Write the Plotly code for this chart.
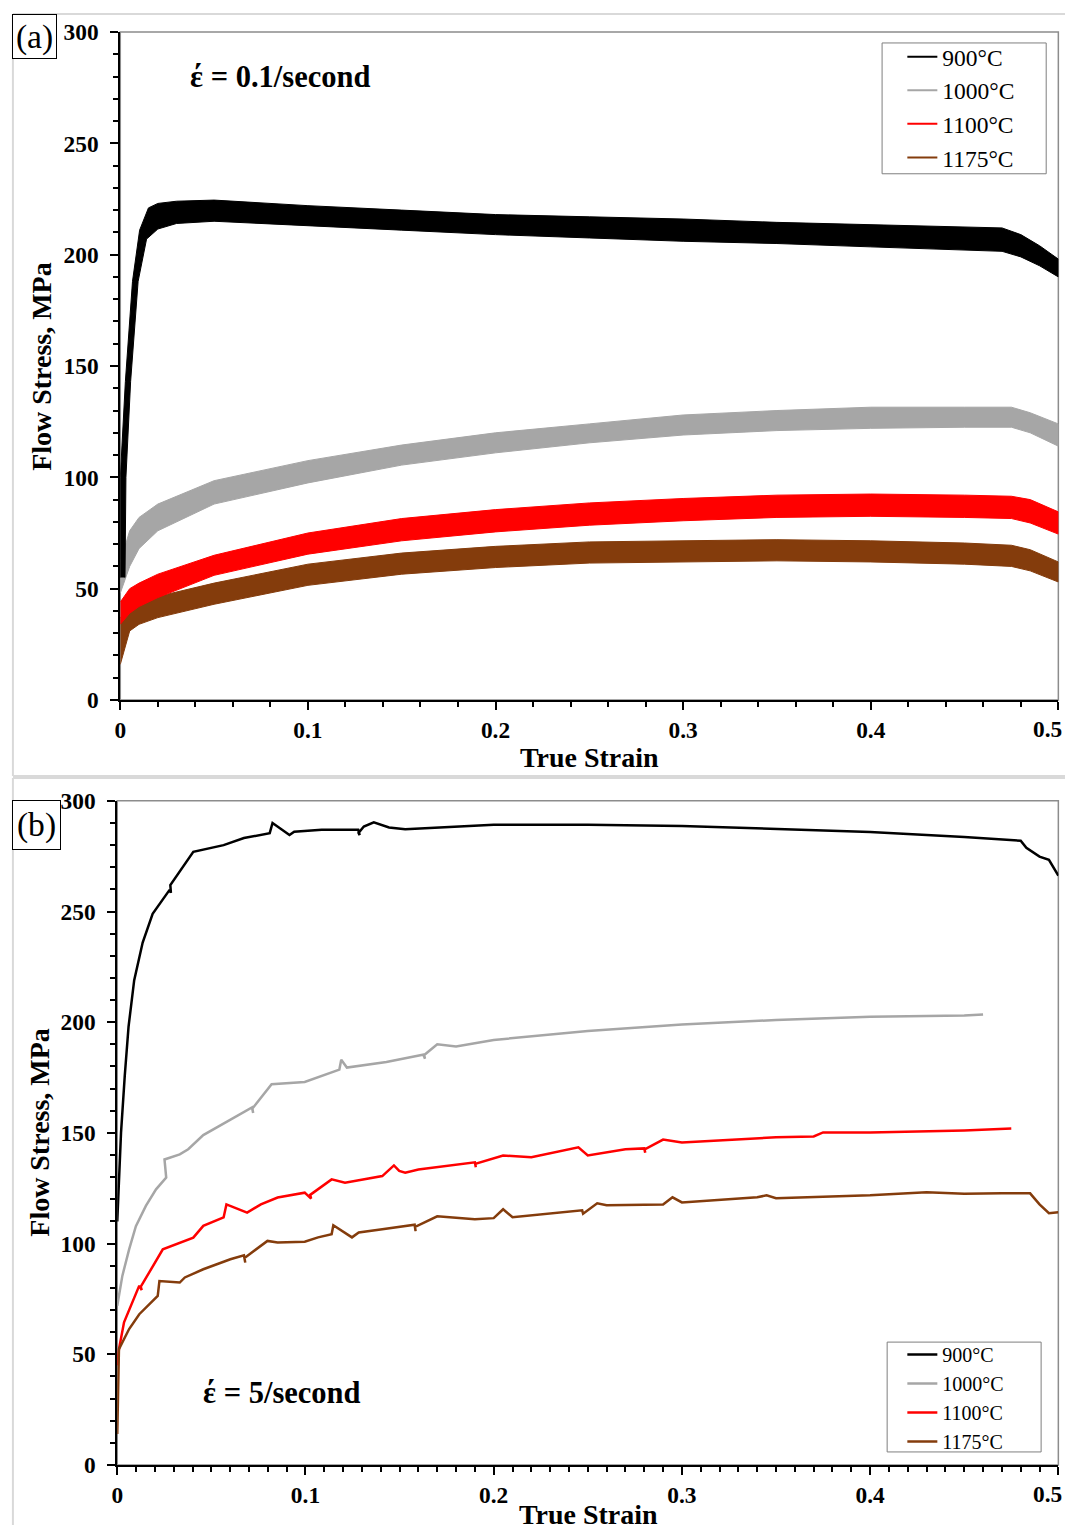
import plotly.graph_objects as go

# ---------------- data ----------------
TEMPS = ["900°C", "1000°C", "1100°C", "1175°C"]
COLORS = ["#000000", "#A6A6A6", "#FF0000", "#843C0C"]

# Panel (a): strain rate 0.1/s  -> noisy bands, given as upper / lower envelopes
A_BLACK_STRAIN_UP = [0.0, 0.0, 0.0027, 0.0065, 0.0103, 0.015, 0.02, 0.03, 0.05, 0.1, 0.15, 0.2, 0.25, 0.3, 0.35, 0.4, 0.45, 0.47, 0.48, 0.49, 0.5]
A_BLACK_UP = [55, 100, 143, 188, 211, 221, 223, 224, 224.5, 222, 220, 218, 217, 216, 214.5, 213.5, 212.5, 212, 209, 204, 198]
A_BLACK_STRAIN_LO = [0.0025, 0.003, 0.0055, 0.0095, 0.014, 0.02, 0.03, 0.05, 0.1, 0.15, 0.2, 0.25, 0.3, 0.35, 0.4, 0.45, 0.47, 0.48, 0.49, 0.5]
A_BLACK_LO = [55, 100, 143, 188, 207, 211.5, 214, 215, 213, 211, 209, 207.5, 206, 205, 203.5, 202, 201.5, 199, 195, 190]

A_STRAIN = [0.0, 0.005, 0.01, 0.02, 0.05, 0.1, 0.15, 0.2, 0.25, 0.3, 0.35, 0.4, 0.45, 0.475, 0.485, 0.5]
A_GRAY_UP = [62, 76, 82, 88, 98.5, 107.5, 114.5, 120, 124, 128, 130, 131.5, 131.5, 131.5, 129, 124]
A_GRAY_LO = [48, 60, 68, 76, 88, 97.5, 105.5, 111, 115.5, 119, 121, 122, 122.5, 122.5, 120, 114]
A_RED_UP = [44, 50, 52.5, 56.5, 65, 75, 81.5, 85.5, 88.5, 90.5, 92, 92.5, 92, 91.5, 90, 84.5]
A_RED_LO = [34, 39, 42, 46, 56, 65.5, 71.5, 75.5, 78.5, 80.5, 82, 82.5, 82, 81.5, 79.5, 74.5]
A_BROWN_UP = [37, 41, 43.5, 46.5, 52.5, 61, 66, 69, 71, 71.5, 72, 71.5, 70.5, 69.5, 67.5, 62]
A_BROWN_LO = [16, 31, 34, 37, 43, 51.5, 56.5, 59.5, 61.5, 62, 62.5, 62, 61, 60, 58, 53]

# Panel (b): strain rate 5/s
B_BLACK_STRAIN = [0.0, 0.002, 0.004, 0.006, 0.009, 0.0135, 0.0188, 0.0278, 0.0285, 0.0282, 0.0404, 0.0457, 0.0565,
                  0.0673, 0.081, 0.0825, 0.0915, 0.094, 0.1086, 0.128, 0.1288, 0.1282, 0.131, 0.1363, 0.1444, 0.153,
                  0.2, 0.25, 0.3, 0.35, 0.4, 0.45, 0.48, 0.483, 0.49, 0.495, 0.5]
B_BLACK = [110, 150, 176, 198, 219, 236, 249, 259.8, 258.5, 262, 277, 278, 280,
           283.2, 285.4, 290, 284.6, 286.1, 286.9, 287, 284.5, 285.5, 288.4, 290.3, 288, 287.2,
           289.2, 289.2, 288.7, 287.3, 285.9, 283.7, 282, 278.8, 274.8, 273.4, 266.2]

B_GRAY_STRAIN = [0.0, 0.0027, 0.0063, 0.0099, 0.0152, 0.0206, 0.026, 0.0251, 0.0332, 0.0377, 0.0457, 0.062, 0.0716,
                 0.0722, 0.0718, 0.082, 0.0996, 0.118, 0.119, 0.122, 0.143, 0.163, 0.1635, 0.1628, 0.17, 0.18,
                 0.2, 0.25, 0.3, 0.35, 0.4, 0.45, 0.46]
B_GRAY = [71.9, 85.4, 97.4, 107.9, 117, 124.5, 129.8, 138, 140.3, 142.6, 149, 157, 161.5,
          159, 161, 172, 173, 178.6, 183, 179.5, 182, 185.4, 183.5, 185, 190, 189,
          192, 196, 199, 201, 202.5, 203, 203.5]

B_RED_STRAIN = [0.0, 0.0009, 0.0036, 0.0117, 0.013, 0.0125, 0.0242, 0.0404, 0.0457, 0.0565, 0.058, 0.069, 0.0763,
                0.0852, 0.0996, 0.103, 0.1025, 0.1139, 0.121, 0.1408, 0.147, 0.1498, 0.153, 0.16, 0.19, 0.1905,
                0.1902, 0.205, 0.22, 0.245, 0.25, 0.27, 0.28, 0.2805, 0.2802, 0.29, 0.3, 0.35, 0.37, 0.375,
                0.4, 0.45, 0.47, 0.475]
B_RED = [45, 52.3, 64.4, 81, 79, 80.5, 97.4, 102.7, 108, 111.8, 117.7, 114, 117.7,
         120.8, 123, 120.3, 122, 129, 127.5, 130.5, 135.3, 132.8, 132, 133.5, 136.7, 134.5,
         136, 139.8, 139, 143.5, 139.8, 142.6, 143, 141, 142.5, 147, 145.7, 148, 148.4, 150.2,
         150.2, 151.1, 151.6, 152]

B_BROWN_STRAIN = [0.0, 0.0005, 0.0009, 0.0063, 0.0117, 0.0215, 0.0224, 0.0332, 0.0359, 0.0457, 0.0601, 0.0673,
                  0.068, 0.0676, 0.0798, 0.0852, 0.0996, 0.1067, 0.1139, 0.1148, 0.1247, 0.1283, 0.1408, 0.153,
                  0.158, 0.1585, 0.1582, 0.17, 0.19, 0.2, 0.205, 0.21, 0.24, 0.247, 0.2475, 0.255, 0.26, 0.29,
                  0.295, 0.3, 0.34, 0.345, 0.35, 0.4, 0.43, 0.45, 0.47, 0.485, 0.49, 0.495, 0.5]
B_BROWN = [14, 30, 52.3, 61.4, 68.1, 76.4, 83.1, 82.4, 84.7, 88.4, 92.9, 94.7,
           91.4, 93.5, 101.2, 100.5, 100.8, 102.8, 104.2, 108.3, 102.8, 105, 106.5, 108,
           108.5, 105.6, 107.5, 112.3, 111, 111.5, 115.5, 111.9, 114.6, 115, 113.5, 118.2, 117.3, 117.7,
           120.9, 118.6, 120.9, 121.8, 120.5, 121.8, 123.2, 122.5, 122.7, 122.7, 117.7, 113.7, 114.1]

X_TICKS = [0, 0.1, 0.2, 0.3, 0.4, 0.5]
X_TICK_LABELS = ["0", "0.1", "0.2", "0.3", "0.4", "0.5"]
Y_TICKS = [0, 50, 100, 150, 200, 250, 300]

# ---------------- figure ----------------
W, H = 1066, 1538
FONT = "Liberation Serif"

# the captured page comes out slightly scaled/offset; positions below are given
# in target-picture pixels and converted to paper fractions here
SX, OX = 0.9816, 5.17
SY, OY = 0.9845, 12.0
FS = 1 / 0.983


def px_x(p):
    return ((p - OX) / SX) / W


def px_y(p):
    return 1 - ((p - OY) / SY) / H


def f(sz):
    return sz * FS


fig = go.Figure()


def band(xu, yu, xl, yl, color, xa, ya):
    xs = list(xu) + list(reversed(xl))
    ys = list(yu) + list(reversed(yl))
    fig.add_trace(go.Scatter(x=xs, y=ys, fill="toself", fillcolor=color, mode="lines",
                             line=dict(color=color, width=1), showlegend=False,
                             hoverinfo="skip", xaxis=xa, yaxis=ya))


band(A_STRAIN, A_BROWN_UP, A_STRAIN, A_BROWN_LO, COLORS[3], "x", "y")
band(A_STRAIN, A_RED_UP, A_STRAIN, A_RED_LO, COLORS[2], "x", "y")
band(A_STRAIN, A_GRAY_UP, A_STRAIN, A_GRAY_LO, COLORS[1], "x", "y")
band(A_BLACK_STRAIN_UP, A_BLACK_UP, A_BLACK_STRAIN_LO, A_BLACK_LO, COLORS[0], "x", "y")

# legend entries for panel (a)
for t, c in zip(TEMPS, COLORS):
    fig.add_trace(go.Scatter(x=[None], y=[None], mode="lines", line=dict(color=c, width=2),
                             name=t, legend="legend", xaxis="x", yaxis="y"))

# panel (b)
B_SERIES = [(B_BLACK_STRAIN, B_BLACK), (B_GRAY_STRAIN, B_GRAY), (B_RED_STRAIN, B_RED), (B_BROWN_STRAIN, B_BROWN)]
for (xs, ys), t, c in zip(B_SERIES, TEMPS, COLORS):
    fig.add_trace(go.Scatter(x=xs, y=ys, mode="lines", line=dict(color=c, width=2.5),
                             name=t, legend="legend2", xaxis="x2", yaxis="y2"))

tickfont = dict(family=FONT, size=f(23), color="black", weight="bold")

# the last x label sits at the very right edge of the page: it is placed as an
# annotation anchored to its right side so that it stays inside the page
AXIS_TICK_TEXT = X_TICK_LABELS[:-1] + [""]


def xaxis_cfg(domain, minor_dtick, anchor):
    return dict(domain=domain, anchor=anchor, range=[0, 0.5], tickvals=X_TICKS,
                ticktext=AXIS_TICK_TEXT, showgrid=False, zeroline=False,
                showline=True, linecolor="black", linewidth=2,
                ticks="outside", ticklen=8, tickwidth=2, tickcolor="black",
                minor=dict(dtick=minor_dtick, tick0=0, ticks="outside", ticklen=5, tickwidth=1.5,
                           tickcolor="black", showgrid=False),
                tickfont=tickfont, ticklabelstandoff=0)


def yaxis_cfg(domain, anchor):
    return dict(domain=domain, anchor=anchor, range=[0, 300], tickvals=Y_TICKS,
                showgrid=False, zeroline=False,
                showline=True, linecolor="black", linewidth=2,
                ticks="outside", ticklen=8, tickwidth=2, tickcolor="black",
                minor=dict(dtick=10, tick0=0, ticks="outside", ticklen=5, tickwidth=1.5,
                           tickcolor="black", showgrid=False),
                tickfont=tickfont, ticklabelstandoff=7)


legend_font_a = dict(family=FONT, size=23.5, color="black")
legend_font_b = dict(family=FONT, size=20, color="black")

fig.update_layout(
    width=W, height=H, autosize=False,
    margin=dict(l=0, r=0, t=0, b=0),
    paper_bgcolor="white", plot_bgcolor="white",
    xaxis=xaxis_cfg([px_x(118), px_x(1044)], 0.02, "y"),
    yaxis=yaxis_cfg([px_y(700), px_y(31)], "x"),
    xaxis2=xaxis_cfg([px_x(115), px_x(1044)], 0.01, "y2"),
    yaxis2=yaxis_cfg([px_y(1466), px_y(801)], "x2"),
    legend=dict(x=px_x(890), y=px_y(34), xanchor="left", yanchor="top",
                borderwidth=0, bgcolor="rgba(0,0,0,0)", font=legend_font_a),
    legend2=dict(x=px_x(890), y=px_y(1336), xanchor="left", yanchor="top",
                 borderwidth=0, bgcolor="rgba(0,0,0,0)", font=legend_font_b),
    showlegend=True,
)

# plot frames (grey top / right)
for xr, yr in [("x domain", "y domain"), ("x2 domain", "y2 domain")]:
    fig.add_shape(type="rect", xref=xr, yref=yr, x0=0, x1=1, y0=0, y1=1,
                  line=dict(color="#8C8C8C", width=1.5), layer="below")

# legend frames
fig.add_shape(type="rect", xref="paper", yref="paper", x0=px_x(870), x1=px_x(1032), y0=px_y(173), y1=px_y(42),
              line=dict(color="#7F7F7F", width=1), fillcolor="white", layer="above")
fig.add_shape(type="rect", xref="paper", yref="paper", x0=px_x(875), x1=px_x(1027), y0=px_y(1453), y1=px_y(1343),
              line=dict(color="#7F7F7F", width=1), fillcolor="white", layer="above")

# chart-area borders
border = dict(color="#D9D9D9", width=2)
top_y = min(px_y(10), 1 - 1 / H)
right_x = 1 - 1 / W
fig.add_shape(type="line", xref="paper", yref="paper", x0=px_x(12), x1=right_x, y0=top_y, y1=top_y, line=border)
fig.add_shape(type="line", xref="paper", yref="paper", x0=px_x(12), x1=px_x(12), y0=top_y, y1=px_y(776), line=border)
fig.add_shape(type="line", xref="paper", yref="paper", x0=px_x(12), x1=right_x, y0=px_y(776), y1=px_y(776), line=border)
fig.add_shape(type="line", xref="paper", yref="paper", x0=px_x(12), x1=right_x, y0=px_y(778), y1=px_y(778), line=border)
fig.add_shape(type="line", xref="paper", yref="paper", x0=px_x(12), x1=px_x(12), y0=px_y(778), y1=0, line=border)

title_font = dict(family=FONT, size=f(27.5), color="black", weight="bold")
rate_font = dict(family=FONT, size=f(30), color="black", weight="bold")
ann = [
    dict(text="True Strain", x=px_x(581), y=px_y(758), font=title_font),
    dict(text="Flow Stress, MPa", x=px_x(40), y=px_y(366), font=title_font, textangle=-90),
    dict(text="True Strain", x=px_x(580), y=px_y(1516), font=title_font),
    dict(text="Flow Stress, MPa", x=px_x(38), y=px_y(1133), font=title_font, textangle=-90),
    dict(text="έ = 0.1/second", x=px_x(185), y=px_y(76), xanchor="left", font=rate_font),
    dict(text="έ = 5/second", x=px_x(198), y=px_y(1394), xanchor="left", font=rate_font),
    dict(text=X_TICK_LABELS[-1], x=1064 / W, y=px_y(729), xanchor="right", font=tickfont),
    dict(text=X_TICK_LABELS[-1], x=1064 / W, y=px_y(1495), xanchor="right", font=tickfont),
    dict(text="(a)", x=px_x(33), y=px_y(36), width=43, height=43, borderpad=0,
         bordercolor="black", borderwidth=1, bgcolor="white",
         font=dict(family=FONT, size=f(33), color="black")),
    dict(text="(b)", x=px_x(35.5), y=px_y(825), width=47, height=48, borderpad=0,
         bordercolor="black", borderwidth=1, bgcolor="white",
         font=dict(family=FONT, size=f(33), color="black")),
]
for a in ann:
    a.setdefault("xanchor", "center")
    a.setdefault("yanchor", "middle")
    fig.add_annotation(xref="paper", yref="paper", showarrow=False, **a)

POST = (
    "var d=document.getElementById('{plot_id}');"
    "d.style.position='fixed';d.style.left='0px';d.style.top='0px';d.style.margin='0';"
    "document.body.style.margin='0';document.body.style.padding='0';"
    "document.body.style.overflow='hidden';document.documentElement.style.overflow='hidden';"
)
fig.write_html("out.html", config=dict(displayModeBar=False), post_script=POST)
